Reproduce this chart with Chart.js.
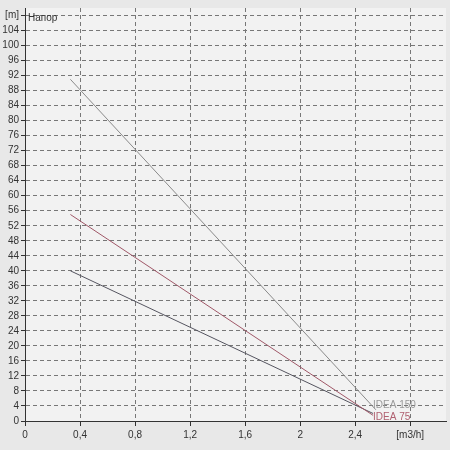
<!DOCTYPE html><html><head><script src="https://cdn.jsdelivr.net/npm/chart.js@4"></script>
<style>body{margin:0;background:#e8e8e8}#w{width:450px;height:450px}</style></head><body><div id="w"><canvas id="c"></canvas></div>
<script>
const flowA=[0.33,2.55], headA=[91,3];
const flowB=[0.33,2.53], headB=[55,1.5];
const flowC=[0.33,2.53], headC=[40,2];
const seriesNames=["IDEA 150","IDEA 75",""];
const pts=(x,y)=>x.map((v,i)=>({x:v,y:y[i]}));
const bgPlugin={id:'bg',beforeDraw(ch){const a=ch.chartArea,c=ch.ctx;c.save();c.fillStyle='#f2f2f2';c.fillRect(a.left,a.top,a.right-a.left,a.bottom-a.top);c.restore();}};
const labelPlugin={id:'lbl',afterDatasetsDraw(ch){const c=ch.ctx,xs=ch.scales.x,ys=ch.scales.y;c.save();c.font='10px Arial';
c.fillStyle='#999';c.fillText(seriesNames[0],xs.getPixelForValue(2.53),ys.getPixelForValue(3.5));
c.fillStyle='#b06070';c.fillText(seriesNames[1],xs.getPixelForValue(2.53),ys.getPixelForValue(0.3));
c.fillStyle='#333';c.fillText('Напор',ch.chartArea.left+3,ys.getPixelForValue(106.5));c.restore();}};
new Chart(document.getElementById('c'),{type:'scatter',data:{datasets:[
{data:pts(flowA,headA),borderColor:'#8a8a8a'},
{data:pts(flowB,headB),borderColor:'#a05868'},
{data:pts(flowC,headC),borderColor:'#555560'}].map(d=>Object.assign(d,{showLine:true,pointRadius:0,borderWidth:1}))},
options:{animation:false,responsive:true,maintainAspectRatio:false,layout:{padding:{top:8,right:4,bottom:6}},
plugins:{legend:{display:false},tooltip:{enabled:false}},
scales:{x:{type:'linear',min:0,max:3.06,afterBuildTicks:s=>{s.ticks=[0,0.4,0.8,1.2,1.6,2,2.4,2.8].map(v=>({value:v}))},
ticks:{maxRotation:0,color:'#333',font:{size:10,family:'Arial'},callback:v=>v>2.7?'[m3/h]':String(Math.round(v*10)/10).replace('.',',')},
grid:{color:'#777',tickColor:'#333',tickLength:5},border:{display:true,color:'#333',dash:[4,3],dashOffset:0}},
y:{min:0,max:110,afterBuildTicks:s=>{const t=[];for(let v=0;v<=108;v+=4)t.push({value:v});s.ticks=t},
afterFit:s=>{s.width=25},
ticks:{color:'#333',font:{size:10,family:'Arial'},padding:2,callback:v=>v===108?'[m]':v},
grid:{color:'#777',tickColor:'#333',tickLength:4},border:{display:true,color:'#333',dash:[4,3]}}}},plugins:[bgPlugin,labelPlugin]});
</script></body></html>
